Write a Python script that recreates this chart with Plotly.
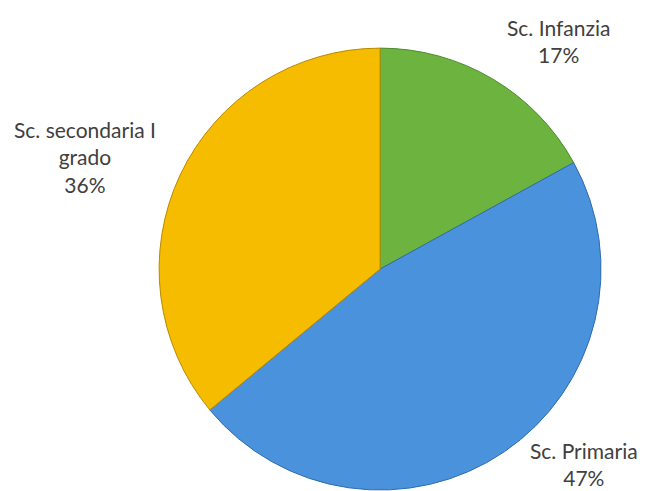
import plotly.graph_objects as go

# ── Data ──────────────────────────────────────────────────────────────────────
labels = ["Sc. Infanzia", "Sc. Primaria", "Sc. secondaria I grado"]
label_text = ["Sc. Infanzia", "Sc. Primaria", "Sc. secondaria I<br>grado"]
values = [17, 47, 36]

_COLORS = ["#6DB33F", "#4A92DC", "#F5BC00"]
_EDGES = ["#4F8A2A", "#2F6CAE", "#B88A00"]
_TEXT = "#404040"

fig = go.Figure()

fig.add_trace(go.Pie(
    labels=labels,
    values=values,
    sort=False,
    direction="clockwise",
    rotation=0,
    textinfo="none",
    hoverinfo="label+percent",
    marker=dict(colors=_COLORS, line=dict(color=_EDGES, width=1)),
    domain=dict(x=[0.2465, 0.932], y=[0.002, 0.902]),
    showlegend=False,
))

# label positions (paper coords, pixels from top-left)
_pos = [(558, 41), (584, 464), (85, 157)]
for txt, v, (px, py) in zip(label_text, values, _pos):
    fig.add_annotation(
        x=px / 645, y=1 - py / 491, xref="paper", yref="paper",
        text=f"{txt}<br>{v}%", showarrow=False,
        xanchor="center", yanchor="middle", align="center",
        font=dict(family="Lato, Carlito, sans-serif", size=21, color=_TEXT),
    )

fig.update_layout(
    width=645, height=491,
    margin=dict(l=0, r=0, t=0, b=0),
    paper_bgcolor="white",
    plot_bgcolor="white",
)

fig.write_html(
    "out.html",
    config={"displayModeBar": False},
    post_script="document.body.style.margin='0';document.body.style.overflow='hidden';",
)
